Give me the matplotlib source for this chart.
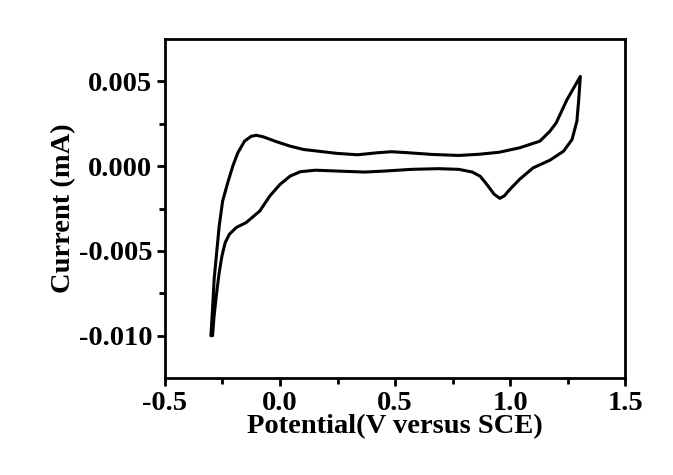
import numpy as np
import matplotlib
matplotlib.use("Agg")
import matplotlib.pyplot as plt

# forward sweep (upper branch), from -0.3 V up to the vertex at 1.3 V
upper_v = [-0.300, -0.293, -0.286, -0.275, -0.264, -0.249, -0.227, -0.205, -0.183, -0.154,
           -0.125, -0.103, -0.073, -0.015, 0.044, 0.103, 0.154, 0.249, 0.337, 0.425,
           0.484, 0.557, 0.660, 0.777, 0.865, 0.953, 1.041, 1.129, 1.173, 1.200,
           1.247, 1.305]
upper_i = [-0.0100, -0.00843, -0.00666, -0.00509, -0.00353, -0.00205, -0.00098, 0.0, 0.00079, 0.00147,
           0.00176, 0.00182, 0.00173, 0.00144, 0.00118, 0.00098, 0.00090, 0.00075, 0.00067, 0.00079,
           0.00085, 0.00079, 0.00069, 0.00063, 0.00070, 0.00082, 0.00108, 0.00147, 0.00206, 0.00255,
           0.00392, 0.00529]

# reverse sweep (lower branch), from 1.3 V back down to -0.3 V
lower_v = [1.305, 1.298, 1.290, 1.269, 1.232, 1.173, 1.100, 1.041, 0.997, 0.975,
           0.955, 0.930, 0.900, 0.870, 0.836, 0.777, 0.689, 0.572, 0.455, 0.367,
           0.249, 0.154, 0.088, 0.044, 0.0, -0.044, -0.088, -0.147, -0.190, -0.220,
           -0.238, -0.252, -0.264, -0.275, -0.286, -0.293]
lower_i = [0.00529, 0.00392, 0.00265, 0.00157, 0.00088, 0.00035, -0.00010, -0.00078, -0.00140, -0.00175,
           -0.00190, -0.00165, -0.00110, -0.00060, -0.00035, -0.00019, -0.00015, -0.00019, -0.00029, -0.00035,
           -0.00029, -0.00024, -0.00033, -0.00059, -0.00108, -0.00176, -0.00265, -0.00333, -0.00362, -0.00402,
           -0.00451, -0.00529, -0.00627, -0.00745, -0.00882, -0.0100]

plt.rcParams["font.family"] = ["Liberation Serif", "DejaVu Serif"]
plt.rcParams["font.weight"] = "bold"

fig = plt.figure(figsize=(6.73, 4.75), dpi=100)
ax = fig.add_axes([0.245, 0.204, 0.684, 0.714])

v = upper_v + lower_v[1:]
i = upper_i + lower_i[1:]
ax.plot(v, i, color="black", linewidth=2.2, solid_joinstyle="round", solid_capstyle="round")

ax.set_xlim(-0.5, 1.5)
ax.set_ylim(-0.0125, 0.0075)
ax.set_xticks([-0.5, 0.0, 0.5, 1.0, 1.5])
ax.set_xticks([-0.25, 0.25, 0.75, 1.25], minor=True)
ax.set_yticks([-0.010, -0.005, 0.0, 0.005])
ax.set_yticks([-0.0075, -0.0025, 0.0025], minor=True)
ax.set_yticklabels(["-0.010", "-0.005", "0.000", "0.005"])
ax.set_xticklabels(["-0.5", "0.0", "0.5", "1.0", "1.5"])

for s in ax.spines.values():
    s.set_linewidth(2.0)
ax.tick_params(which="major", length=6, width=2, labelsize=20.5, pad=3)
ax.tick_params(which="minor", length=4, width=2)

ax.set_xlabel("Potential(V versus SCE)", fontsize=20.5, fontweight="bold", labelpad=-1)
ax.set_ylabel("Current (mA)", fontsize=20.5, fontweight="bold", labelpad=2)

fig.savefig("out.png", dpi=100)
